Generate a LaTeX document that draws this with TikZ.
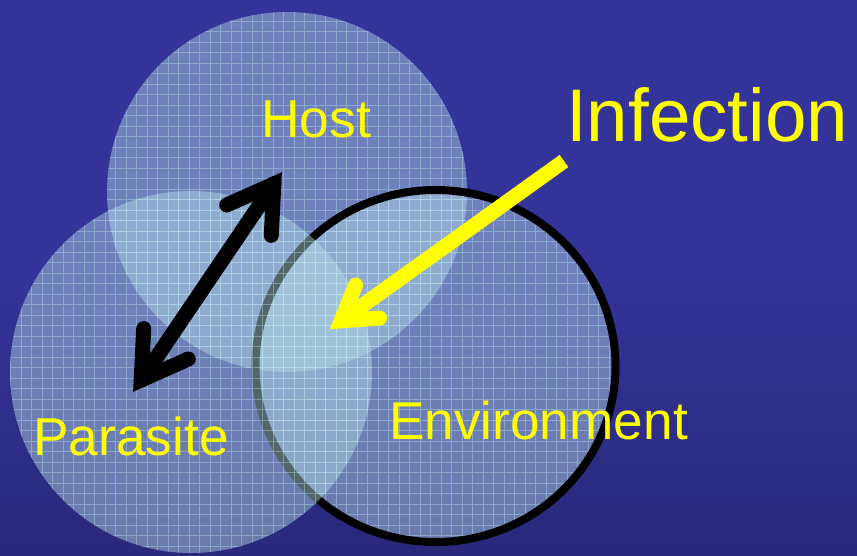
\documentclass[tikz,border=0pt]{standalone}
\usepackage{fontspec}
\setmainfont{Liberation Sans}
\definecolor{bgtop}{HTML}{333399}
\definecolor{bgbot}{HTML}{29287A}
\definecolor{disc}{HTML}{B8E0E8}
\definecolor{gridc}{HTML}{B8E8F0}
\definecolor{txt}{HTML}{FFFF00}
\begin{document}
\begin{tikzpicture}[x=1pt,y=-1pt,
  discfill/.style={fill=disc, fill opacity=0.45},
  gridline/.style={draw=gridc, line width=1pt, draw opacity=0.4},
  lbl/.style={text=txt, inner sep=0pt, anchor=base west},
  blackarrow/.style={draw=black, line width=15pt, line cap=round, line join=miter},
  yellowarrow/.style={draw=txt, line width=15pt, line cap=round, line join=miter}]

\useasboundingbox (0,0) rectangle (857,555);
\fill[bgtop] (0,0) rectangle (857,555);
\shade[top color=bgtop,bottom color=bgbot] (0,280) rectangle (857,555);

% Host disc
\fill[discfill] (287,192) circle[radius=180];
\begin{scope}
  \clip (287,192) circle[radius=180];
  \draw[gridline, step=10.5pt] (100,0) grid (480,380);
\end{scope}

% Environment disc
\fill[discfill] (435.5,366) ellipse[x radius=180, y radius=176];
\begin{scope}
  \clip (435.5,366) ellipse[x radius=180, y radius=176];
  \draw[gridline, step=10.5pt] (250,180) grid (620,555);
\end{scope}
\draw[line width=8pt, black] (435.5,366) ellipse[x radius=180, y radius=176];

% Parasite disc
\fill[discfill] (191,372) circle[radius=181];
\begin{scope}
  \clip (191,372) circle[radius=181];
  \draw[gridline, step=10.5pt] (0,180) grid (380,555);
\end{scope}

% Black double arrow
\coordinate (bt) at (273.8,184);
\coordinate (bb) at (141.2,380);
\coordinate (bta) at (271.3,235.4);
\coordinate (btb) at (226.7,205);
\coordinate (bba) at (188.3,359);
\coordinate (bbb) at (143.7,328.6);
\draw[blackarrow] (bt) -- (bb);
\draw[blackarrow] (bta) -- (bt) -- (btb);
\draw[blackarrow] (bba) -- (bb) -- (bbb);

% Yellow arrow
\coordinate (yt) at (341.2,320.8);
\coordinate (ye) at (564,161);
\coordinate (ya) at (379.6,318);
\coordinate (yb) at (355.6,285);
\draw[yellowarrow, line cap=butt] (ye) -- (yt);
\draw[yellowarrow] (ya) -- (yt) -- (yb);

% Labels
\node[lbl, font=\fontsize{53.5}{60}\selectfont] (host) at (261,137) {Host};
\node[lbl, font=\fontsize{53.3}{60}\selectfont] (parasite) at (33,455) {Parasite};
\node[lbl, font=\fontsize{53.2}{60}\selectfont] (env) at (389,439) {Environment};
\node[lbl, font=\fontsize{74.6}{84}\selectfont] (infection) at (566,141) {Infection};
\end{tikzpicture}
\end{document}
